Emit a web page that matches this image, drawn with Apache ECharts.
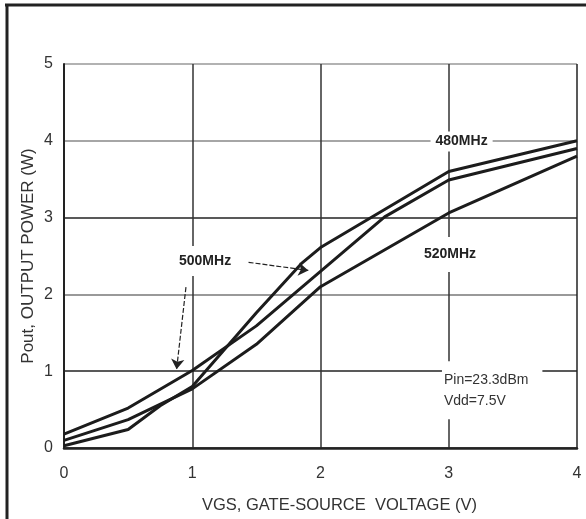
<!DOCTYPE html>
<html><head><meta charset="utf-8">
<script src="https://cdn.jsdelivr.net/npm/echarts@6/dist/echarts.min.js"></script>
<style>html,body{margin:0;padding:0;background:#fff}#c{width:586px;height:519px}</style>
</head><body><div id="c"></div>
<script>
// ---- data ----
const xTicks = [0, 1, 2, 3, 4];
const yTicks = [0, 1, 2, 3, 4, 5];
const vgs480 = [0, 0.5, 0.75, 1, 1.5, 1.85, 2, 3, 4];
const pout480 = [0.03, 0.24, 0.55, 0.8, 1.76, 2.4, 2.61, 3.6, 4.0];
const vgs500 = [0, 0.5, 1, 1.5, 2, 2.5, 3, 4];
const pout500 = [0.18, 0.52, 1.01, 1.59, 2.3, 3.01, 3.49, 3.9];
const vgs520 = [0, 0.5, 1, 1.5, 2, 3, 4];
const pout520 = [0.1, 0.37, 0.77, 1.35, 2.1, 3.06, 3.8];
const seriesNames = ['480MHz', '500MHz', '520MHz'];
const xName = 'VGS, GATE-SOURCE  VOLTAGE (V)';
const yName = 'Pout, OUTPUT POWER (W)';
const noteText = 'Pin=23.3dBm\nVdd=7.5V';

const zip = (xs, ys) => xs.map((x, i) => [x, ys[i]]);
const lineStyle = { color: '#1c1c1c', width: 3 };
const FONT = 'Liberation Sans, Arial, sans-serif';
const NARROW = "'Liberation Sans Narrow', 'Arial Narrow', Liberation Sans, Arial, sans-serif";

const boxLabel = (pad, extra) => Object.assign({
  show: true, color: '#222', fontFamily: NARROW, fontWeight: 'bold', fontSize: 14,
  lineHeight: 14, backgroundColor: '#fff', padding: pad
}, extra || {});

const chart = echarts.init(document.getElementById('c'), null, { renderer: 'canvas' });
chart.setOption({
  animation: false,
  backgroundColor: '#fff',
  grid: { left: 64, right: 9, top: 64, bottom: 70, containLabel: false },
  xAxis: {
    type: 'value', min: xTicks[0], max: xTicks[xTicks.length - 1], interval: 1,
    name: xName, nameLocation: 'middle', nameGap: 49, nameMoveOverlap: false,
    nameTextStyle: { fontFamily: FONT, fontSize: 16.5, color: '#333', padding: [0, 0, 0, 38] },
    axisLine: { show: true, lineStyle: { color: '#222', width: 2.5 } },
    axisTick: { show: false },
    axisLabel: { fontFamily: FONT, fontSize: 16, color: '#333', margin: 18 },
    splitLine: { show: true, lineStyle: { color: ['#222', '#333', '#333', '#333', '#222'], width: 1.5 } }
  },
  yAxis: {
    type: 'value', min: yTicks[0], max: yTicks[yTicks.length - 1], interval: 1,
    name: yName, nameLocation: 'middle', nameGap: 27, nameMoveOverlap: false,
    nameTextStyle: { fontFamily: FONT, fontSize: 17, color: '#333' },
    axisLine: { show: true, lineStyle: { color: '#222', width: 2 } },
    axisTick: { show: false },
    axisLabel: { fontFamily: FONT, fontSize: 16, color: '#333', margin: 11 },
    splitLine: { show: true, lineStyle: { color: ['#222', '#222', '#777', '#222', '#888', '#999'], width: 1.5 } }
  },
  graphic: [
    { type: 'line', shape: { x1: 5, y1: 5, x2: 586, y2: 5 }, style: { stroke: '#222', lineWidth: 3 } },
    { type: 'line', shape: { x1: 7, y1: 4, x2: 7, y2: 519 }, style: { stroke: '#222', lineWidth: 3 } }
  ],
  series: [
    { name: seriesNames[0], type: 'line', data: zip(vgs480, pout480), symbol: 'none', lineStyle, z: 3 },
    { name: seriesNames[1], type: 'line', data: zip(vgs500, pout500), symbol: 'none', lineStyle, z: 3,
      markLine: {
        silent: true, symbol: ['none', 'arrow'], symbolSize: 10,
        label: { show: false },
        lineStyle: { color: '#222', width: 1.2, type: [5, 2] },
        itemStyle: { color: '#222' },
        emphasis: { disabled: true },
        data: [
          [{ coord: [1.439, 2.418] }, { coord: [1.905, 2.312] }],
          [{ coord: [0.951, 2.095] }, { coord: [0.878, 1.026] }]
        ]
      }
    },
    { name: seriesNames[2], type: 'line', data: zip(vgs520, pout520), symbol: 'none', lineStyle, z: 3,
      markPoint: {
        silent: true, symbol: 'circle', symbolSize: 0,
        data: [
          { coord: [3.10, 3.99], label: boxLabel([3, 5, 3, 5], { formatter: seriesNames[0] }) },
          { coord: [1.10, 2.435], label: boxLabel([8, 3, 8, 3], { formatter: seriesNames[1] }) },
          { coord: [3.01, 2.52], label: boxLabel([10, 3, 11, 3], { formatter: seriesNames[2] }) },
          { coord: [2.947, 0.753], label: { show: true, position: 'right', distance: 0, formatter: noteText,
              fontFamily: FONT, fontSize: 14, lineHeight: 21, color: '#333', align: 'left',
              backgroundColor: '#fff', padding: [9, 14, 7, 2] } }
        ]
      }
    }
  ]
});
</script></body></html>
